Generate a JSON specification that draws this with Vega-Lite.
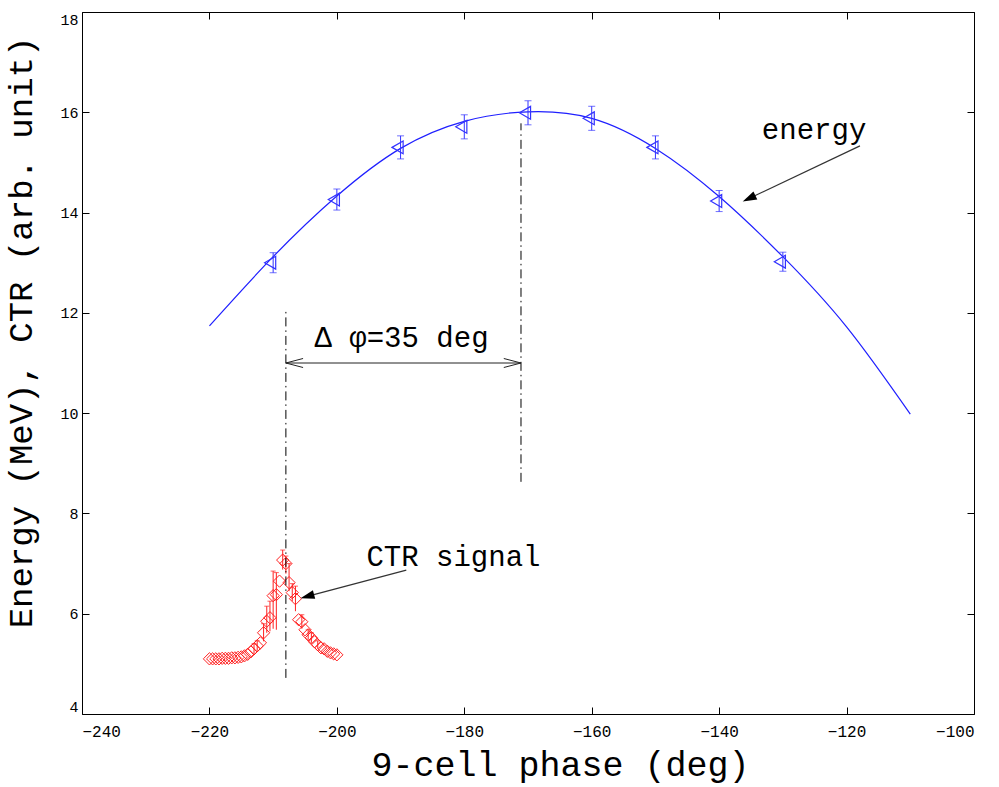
{
  "$schema": "https://vega.github.io/schema/vega-lite/v6.json",
  "width": 892,
  "height": 702,
  "autosize": {"type": "none"},
  "padding": {"left": 82, "top": 12, "right": 25, "bottom": 73},
  "background": "white",
  "config": {
    "view": {"stroke": "#000", "strokeWidth": 1},
    "axis": {
      "grid": false,
      "domain": false,
      "tickColor": "#000",
      "tickSize": -7,
      "labelFont": "Liberation Mono",
      "labelFontSize": 16,
      "labelColor": "#000",
      "titleFont": "Liberation Mono",
      "titleFontWeight": "normal",
      "titleColor": "#000"
    },
    "text": {"font": "Liberation Mono", "fontSize": 29, "color": "#000"}
  },
  "datasets": {
    "fit": [
      {"phase": -220, "energy": 11.74},
      {"phase": -210, "energy": 13.12},
      {"phase": -200, "energy": 14.33},
      {"phase": -190, "energy": 15.28},
      {"phase": -180, "energy": 15.82},
      {"phase": -170, "energy": 16.01},
      {"phase": -160, "energy": 15.88},
      {"phase": -150, "energy": 15.28},
      {"phase": -140, "energy": 14.32},
      {"phase": -130, "energy": 13.12},
      {"phase": -120, "energy": 11.72},
      {"phase": -110, "energy": 9.98}
    ],
    "energy": [
      {"phase": -210, "energy": 13.00, "lo": 12.80, "hi": 13.20},
      {"phase": -200, "energy": 14.26, "lo": 14.05, "hi": 14.47},
      {"phase": -190, "energy": 15.30, "lo": 15.07, "hi": 15.53},
      {"phase": -180, "energy": 15.71, "lo": 15.47, "hi": 15.95},
      {"phase": -170, "energy": 15.99, "lo": 15.75, "hi": 16.23},
      {"phase": -160, "energy": 15.88, "lo": 15.64, "hi": 16.12},
      {"phase": -150, "energy": 15.30, "lo": 15.07, "hi": 15.53},
      {"phase": -140, "energy": 14.23, "lo": 14.02, "hi": 14.44},
      {"phase": -130, "energy": 13.02, "lo": 12.83, "hi": 13.21}
    ],
    "ctr": [
      {"phase": -220.0, "signal": 5.10},
      {"phase": -219.5, "signal": 5.10},
      {"phase": -219.0, "signal": 5.10},
      {"phase": -218.5, "signal": 5.10},
      {"phase": -218.0, "signal": 5.11},
      {"phase": -217.5, "signal": 5.11},
      {"phase": -217.0, "signal": 5.11},
      {"phase": -216.5, "signal": 5.12},
      {"phase": -216.0, "signal": 5.12},
      {"phase": -215.5, "signal": 5.13},
      {"phase": -215.0, "signal": 5.14},
      {"phase": -214.5, "signal": 5.16},
      {"phase": -214.0, "signal": 5.19},
      {"phase": -213.5, "signal": 5.24},
      {"phase": -213.0, "signal": 5.30},
      {"phase": -212.5, "signal": 5.36},
      {"phase": -212.0, "signal": 5.42},
      {"phase": -211.5, "signal": 5.62},
      {"phase": -211.0, "signal": 5.85},
      {"phase": -210.5, "signal": 5.92},
      {"phase": -210.0, "signal": 6.36},
      {"phase": -209.5, "signal": 6.38},
      {"phase": -209.0, "signal": 6.65},
      {"phase": -208.5, "signal": 7.07},
      {"phase": -208.0, "signal": 7.00},
      {"phase": -207.5, "signal": 6.62},
      {"phase": -207.0, "signal": 6.42},
      {"phase": -206.5, "signal": 6.30},
      {"phase": -206.0, "signal": 5.88},
      {"phase": -205.5, "signal": 5.84},
      {"phase": -205.0, "signal": 5.68},
      {"phase": -204.5, "signal": 5.58},
      {"phase": -204.0, "signal": 5.52},
      {"phase": -203.5, "signal": 5.44},
      {"phase": -203.0, "signal": 5.38},
      {"phase": -202.5, "signal": 5.32},
      {"phase": -202.0, "signal": 5.30},
      {"phase": -201.5, "signal": 5.25},
      {"phase": -201.0, "signal": 5.22},
      {"phase": -200.5, "signal": 5.20},
      {"phase": -200.0, "signal": 5.18}
    ],
    "ctr_err": [
      {"phase": -213.0, "lo": 5.20, "hi": 5.40},
      {"phase": -212.5, "lo": 5.26, "hi": 5.46},
      {"phase": -211.5, "lo": 5.45, "hi": 5.80},
      {"phase": -211.0, "lo": 5.62, "hi": 6.15},
      {"phase": -210.5, "lo": 5.65, "hi": 6.25},
      {"phase": -210.0, "lo": 5.70, "hi": 6.85},
      {"phase": -209.5, "lo": 5.68, "hi": 6.82},
      {"phase": -208.5, "lo": 6.88, "hi": 7.27},
      {"phase": -208.0, "lo": 6.80, "hi": 7.15},
      {"phase": -207.5, "lo": 6.45, "hi": 7.00},
      {"phase": -207.0, "lo": 6.25, "hi": 6.60},
      {"phase": -206.5, "lo": 6.05, "hi": 6.55},
      {"phase": -205.5, "lo": 5.70, "hi": 5.98},
      {"phase": -204.5, "lo": 5.48, "hi": 5.68},
      {"phase": -204.0, "lo": 5.42, "hi": 5.62},
      {"phase": -203.0, "lo": 5.30, "hi": 5.46}
    ],
    "guides": [
      {"phase": -208.0, "from": 4.72, "to": 12.06},
      {"phase": -171.1, "from": 8.63, "to": 15.78}
    ],
    "span": [
      {"x": -208.0, "y": 11.0, "x2": -171.1, "y2": 11.0},
      {"x": -208.0, "y": 11.0, "x2": -205.3, "y2": 11.09},
      {"x": -208.0, "y": 11.0, "x2": -205.3, "y2": 10.91},
      {"x": -171.1, "y": 11.0, "x2": -173.8, "y2": 11.09},
      {"x": -171.1, "y": 11.0, "x2": -173.8, "y2": 10.91}
    ],
    "pointers": [
      {"label": "energy", "x": -117.9, "y": 15.33, "x2": -135.0, "y2": 14.30},
      {"label": "CTR signal", "x": -189.1, "y": 6.87, "x2": -204.5, "y2": 6.35}
    ],
    "tips": [
      {"label": "energy", "x": -136.3, "y": 14.22},
      {"label": "CTR signal", "x": -205.7, "y": 6.31}
    ],
    "notes": [
      {"text": "energy", "x": -125.1, "y": 15.47},
      {"text": "CTR signal", "x": -181.7, "y": 6.95},
      {"text": "Δ φ=35 deg", "x": -189.85, "y": 11.32}
    ]
  },
  "layer": [
    {
      "layer": [
        {
          "data": {"name": "fit"},
          "mark": {"type": "line", "color": "#1f1fff", "strokeWidth": 1.2, "interpolate": "natural"},
          "encoding": {
            "x": {
              "field": "phase", "type": "quantitative",
              "scale": {"domain": [-240, -100], "nice": false, "zero": false},
              "axis": {
                "orient": "bottom",
                "values": [-240, -220, -200, -180, -160, -140, -120, -100],
                "labelPadding": 16,
                "title": "9-cell phase (deg)",
                "titleFontSize": 35,
                "titleX": 478,
                "titleY": 61,
                "titleBaseline": "alphabetic"
              }
            },
            "y": {
              "field": "energy", "type": "quantitative",
              "scale": {"domain": [4, 18], "nice": false, "zero": false},
              "axis": {
                "orient": "left",
                "values": [4, 6, 8, 10, 12, 14, 16, 18],
                "labelFontSize": 15,
                "labelPadding": 11,
                "labelFlush": true,
                "title": "Energy (MeV), CTR (arb. unit)",
                "titleFontSize": 34,
                "titleAngle": -90,
                "titleX": -51,
                "titleY": 320,
                "titleAlign": "center",
                "titleBaseline": "alphabetic"
              }
            }
          }
        },
        {
          "data": {"name": "energy"},
          "mark": {"type": "rule", "color": "#3333ff", "strokeWidth": 1},
          "encoding": {
            "x": {"field": "phase", "type": "quantitative"},
            "y": {"field": "lo", "type": "quantitative"},
            "y2": {"field": "hi"}
          }
        },
        {
          "data": {"name": "energy"},
          "mark": {"type": "tick", "orient": "horizontal", "color": "#3333ff", "size": 7, "thickness": 1},
          "encoding": {
            "x": {"field": "phase", "type": "quantitative"},
            "y": {"field": "lo", "type": "quantitative"}
          }
        },
        {
          "data": {"name": "energy"},
          "mark": {"type": "tick", "orient": "horizontal", "color": "#3333ff", "size": 7, "thickness": 1},
          "encoding": {
            "x": {"field": "phase", "type": "quantitative"},
            "y": {"field": "hi", "type": "quantitative"}
          }
        },
        {
          "data": {"name": "energy"},
          "mark": {"type": "point", "shape": "triangle-left", "filled": false, "color": "#3333ff", "size": 165, "strokeWidth": 1.2, "opacity": 1, "xOffset": -3},
          "encoding": {
            "x": {"field": "phase", "type": "quantitative"},
            "y": {"field": "energy", "type": "quantitative"}
          }
        },
        {
          "data": {"name": "ctr_err"},
          "mark": {"type": "rule", "color": "#ff2020", "strokeWidth": 1},
          "encoding": {
            "x": {"field": "phase", "type": "quantitative"},
            "y": {"field": "lo", "type": "quantitative"},
            "y2": {"field": "hi"}
          }
        },
        {
          "data": {"name": "ctr_err"},
          "mark": {"type": "tick", "orient": "horizontal", "color": "#ff2020", "size": 5, "thickness": 1},
          "encoding": {
            "x": {"field": "phase", "type": "quantitative"},
            "y": {"field": "hi", "type": "quantitative"}
          }
        },
        {
          "data": {"name": "ctr"},
          "mark": {"type": "point", "shape": "diamond", "filled": false, "color": "#ff2020", "size": 150, "strokeWidth": 1, "opacity": 1},
          "encoding": {
            "x": {"field": "phase", "type": "quantitative"},
            "y": {"field": "signal", "type": "quantitative"}
          }
        },
        {
          "data": {"name": "guides"},
          "mark": {"type": "rule", "color": "#000", "strokeWidth": 1, "strokeDash": [9, 4, 1.5, 4]},
          "encoding": {
            "x": {"field": "phase", "type": "quantitative"},
            "y": {"field": "from", "type": "quantitative"},
            "y2": {"field": "to"}
          }
        },
        {
          "data": {"name": "span"},
          "mark": {"type": "rule", "color": "#222", "strokeWidth": 1},
          "encoding": {
            "x": {"field": "x", "type": "quantitative"},
            "y": {"field": "y", "type": "quantitative"},
            "x2": {"field": "x2"},
            "y2": {"field": "y2"}
          }
        },
        {
          "data": {"name": "pointers"},
          "mark": {"type": "rule", "color": "#333", "strokeWidth": 1.2},
          "encoding": {
            "x": {"field": "x", "type": "quantitative"},
            "y": {"field": "y", "type": "quantitative"},
            "x2": {"field": "x2"},
            "y2": {"field": "y2"}
          }
        },
        {
          "data": {"name": "tips"},
          "transform": [{"filter": "datum.label === 'energy'"}],
          "mark": {"type": "point", "shape": "M0,0 L0.32,1 L-0.32,1 Z", "filled": true, "color": "#000", "size": 784, "opacity": 1, "strokeWidth": 0, "angle": 244.6},
          "encoding": {
            "x": {"field": "x", "type": "quantitative"},
            "y": {"field": "y", "type": "quantitative"}
          }
        },
        {
          "data": {"name": "tips"},
          "transform": [{"filter": "datum.label === 'CTR signal'"}],
          "mark": {"type": "point", "shape": "M0,0 L0.32,1 L-0.32,1 Z", "filled": true, "color": "#000", "size": 784, "opacity": 1, "strokeWidth": 0, "angle": 255},
          "encoding": {
            "x": {"field": "x", "type": "quantitative"},
            "y": {"field": "y", "type": "quantitative"}
          }
        },
        {
          "data": {"name": "notes"},
          "mark": {"type": "text", "align": "center", "baseline": "alphabetic"},
          "encoding": {
            "x": {"field": "x", "type": "quantitative"},
            "y": {"field": "y", "type": "quantitative"},
            "text": {"field": "text"}
          }
        }
      ]
    },
    {
      "data": {"name": "energy"},
      "mark": {"type": "point", "opacity": 0},
      "encoding": {
        "x": {
          "field": "phase", "type": "quantitative",
          "scale": {"domain": [-240, -100], "nice": false, "zero": false},
          "axis": {"orient": "top", "labels": false, "title": null, "values": [-240, -220, -200, -180, -160, -140, -120, -100]}
        },
        "y": {
          "field": "energy", "type": "quantitative",
          "scale": {"domain": [4, 18], "nice": false, "zero": false},
          "axis": {"orient": "right", "labels": false, "title": null, "values": [4, 6, 8, 10, 12, 14, 16, 18]}
        }
      }
    }
  ],
  "resolve": {"axis": {"x": "independent", "y": "independent"}}
}
